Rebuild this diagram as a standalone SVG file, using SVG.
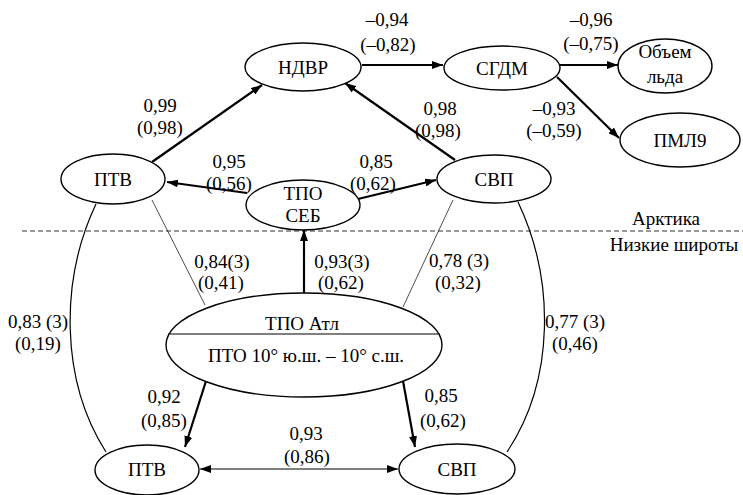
<svg xmlns="http://www.w3.org/2000/svg" width="743" height="495" viewBox="0 0 743 495" font-family="Liberation Serif, DejaVu Serif, serif" font-size="19">
<style>
text{fill:#000;text-anchor:middle}
ellipse{fill:#fff;stroke:#000;stroke-width:1.4}
.thick{stroke:#000;stroke-width:2.2;fill:none}
.mid{stroke:#000;stroke-width:1.2;fill:none}
.thin{stroke:#000;stroke-width:0.7;fill:none}
</style>
<defs>
<marker id="a" markerUnits="userSpaceOnUse" markerWidth="11" markerHeight="8" refX="11" refY="4" orient="auto-start-reverse"><path d="M0,0 L11,4 L0,8 z" fill="#000"/></marker>
</defs>
<rect width="743" height="495" fill="#fff"/>
<line x1="22" y1="231" x2="743" y2="231" stroke="#333" stroke-width="1" stroke-dasharray="5,3"/>
<text x="666" y="225">Арктика</text>
<text x="674" y="251">Низкие широты</text>
<g id="connectors">
<line class="thick" x1="362" y1="65" x2="443" y2="65" marker-end="url(#a)"/>
<line class="thick" x1="560" y1="65" x2="618" y2="65" marker-end="url(#a)"/>
<line class="thick" x1="557" y1="77" x2="619" y2="138" marker-end="url(#a)"/>
<line class="thick" x1="152" y1="162" x2="262" y2="85" marker-end="url(#a)"/>
<line class="thick" x1="455" y1="160" x2="345" y2="83" marker-end="url(#a)"/>
<line class="thick" x1="247" y1="193" x2="167" y2="182" marker-end="url(#a)"/>
<line class="thick" x1="358" y1="199" x2="436" y2="180" marker-end="url(#a)"/>
<line class="thick" x1="304" y1="293" x2="304" y2="230" marker-end="url(#a)"/>
<line class="thin" x1="152" y1="200" x2="205" y2="305"/>
<line class="thin" x1="453" y1="200" x2="403" y2="307"/>
<path class="mid" d="M96,204 C60,280 60,380 106,452"/>
<path class="mid" d="M518,202 C555,280 555,380 507,452"/>
<line class="thick" x1="206" y1="381" x2="185" y2="447" marker-end="url(#a)"/>
<line class="thick" x1="403" y1="381" x2="415" y2="447" marker-end="url(#a)"/>
<line class="mid" x1="200" y1="469" x2="398" y2="469" marker-start="url(#a)" marker-end="url(#a)"/>
</g>
<g id="labels">
<text x="387" y="26">–0,94</text><text x="388" y="51">(–0,82)</text>
<text x="591" y="26">–0,96</text><text x="591" y="50">(–0,75)</text>
<text x="440" y="115">0,98</text><text x="438" y="137">(0,98)</text>
<text x="554" y="115">–0,93</text><text x="554" y="137">(–0,59)</text>
<text x="160" y="112">0,99</text><text x="160" y="134">(0,98)</text>
<text x="229" y="168">0,95</text><text x="229" y="190">(0,56)</text>
<text x="376" y="168">0,85</text><text x="373" y="190">(0,62)</text>
<text x="222" y="268">0,84(3)</text><text x="221" y="289">(0,41)</text>
<text x="342" y="268">0,93(3)</text><text x="341" y="289">(0,62)</text>
<text x="459" y="267">0,78 (3)</text><text x="458" y="289">(0,32)</text>
<text x="38" y="328">0,83 (3)</text><text x="38" y="350">(0,19)</text>
<text x="575" y="328">0,77 (3)</text><text x="575" y="350">(0,46)</text>
<text x="164" y="403">0,92</text><text x="164" y="427">(0,85)</text>
<text x="441" y="402">0,85</text><text x="443" y="427">(0,62)</text>
<text x="306" y="440">0,93</text><text x="307" y="463">(0,86)</text>
</g>
<g id="ndvr"><ellipse cx="303" cy="67" rx="58" ry="24"/><text x="303" y="74">НДВР</text></g>
<g id="sgdm"><ellipse cx="502" cy="68" rx="58" ry="22"/><text x="502" y="75">СГДМ</text></g>
<g id="ice"><ellipse cx="665" cy="66" rx="47" ry="27"/><text x="665" y="58">Объем</text><text x="665" y="83">льда</text></g>
<g id="pml9"><ellipse cx="680" cy="140" rx="60" ry="27"/><text x="680" y="147">ПМЛ9</text></g>
<g id="ptv-top"><ellipse cx="113" cy="179" rx="52" ry="25"/><text x="113" y="186">ПТВ</text></g>
<g id="svp-top"><ellipse cx="494" cy="179" rx="57" ry="24"/><text x="494" y="186">СВП</text></g>
<g id="tpo-seb"><ellipse cx="303" cy="205" rx="57" ry="25"/><text x="303" y="200">ТПО</text><text x="303" y="222">СЕБ</text></g>
<g id="tpo-atl"><ellipse cx="304" cy="345" rx="138" ry="52"/><line x1="168" y1="334" x2="440" y2="334" stroke="#000" stroke-width="1"/><text x="302" y="330">ТПО Атл</text><text x="306" y="362">ПТО 10° ю.ш. – 10° с.ш.</text></g>
<g id="ptv-bottom"><ellipse cx="147" cy="470" rx="52" ry="25"/><text x="147" y="476">ПТВ</text></g>
<g id="svp-bottom"><ellipse cx="457" cy="469" rx="58" ry="25"/><text x="457" y="476">СВП</text></g>
</svg>
